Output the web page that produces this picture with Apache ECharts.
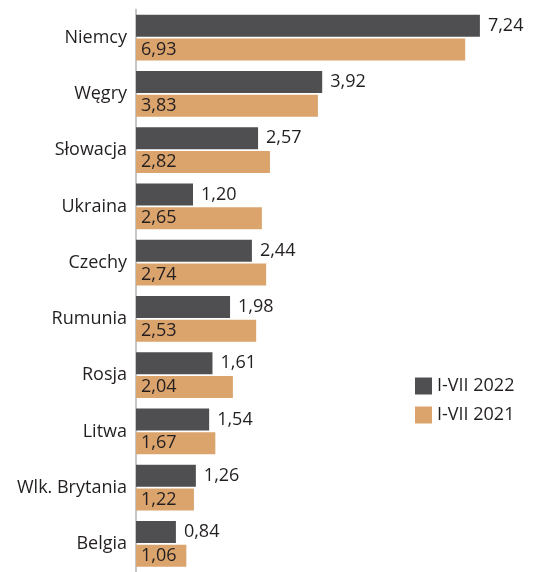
<!DOCTYPE html>
<html><head><meta charset="utf-8">
<script src="https://cdn.jsdelivr.net/npm/echarts@6/dist/echarts.min.js"></script>
<style>html,body{margin:0;padding:0;background:#fff}#c{width:537px;height:572px}</style>
</head><body><div id="c"></div>
<script>
var categories = ['Niemcy','Węgry','Słowacja','Ukraina','Czechy','Rumunia','Rosja','Litwa','Wlk. Brytania','Belgia'];
var values2022 = [7.24,3.92,2.57,1.20,2.44,1.98,1.61,1.54,1.26,0.84];
var values2021 = [6.93,3.83,2.82,2.65,2.74,2.53,2.04,1.67,1.22,1.06];
var seriesNames = ['I-VII 2022','I-VII 2021'];
var fmt = function(p){ return p.value.toFixed(2).replace('.', ','); };
var font = 'Open Sans';
var chart = echarts.init(document.getElementById('c'));
chart.setOption({
  animation:false,
  textStyle:{fontFamily:font},
  legend:{orient:'vertical', left:410, top:372, itemWidth:17, itemHeight:17, itemGap:11,
    icon:'rect', textStyle:{fontSize:18, color:'#231f20', fontFamily:font},
    data:seriesNames},
  grid:{left:136, top:9.5, width:380, height:569, containLabel:false},
  xAxis:{type:'value', min:0, max:8, show:false},
  yAxis:{type:'category', data:categories, inverse:true,
    axisLine:{show:true, lineStyle:{color:'#c6c6c6', width:2}},
    axisTick:{show:false},
    axisLabel:{fontSize:18, color:'#231f20', margin:9, fontFamily:font}},
  series:[
    {name:seriesNames[0], type:'bar', data:values2022, barWidth:22, barGap:'9%',
     itemStyle:{color:'#4f4f51'},
     label:{show:true, position:'right', distance:8, fontSize:18, color:'#231f20', formatter:fmt, fontFamily:font}},
    {name:seriesNames[1], type:'bar', data:values2021, barWidth:22,
     itemStyle:{color:'#dba46d'},
     label:{show:true, position:'insideLeft', distance:5, fontSize:18, color:'#231f20', formatter:fmt, fontFamily:font}}
  ]
});
</script></body></html>
